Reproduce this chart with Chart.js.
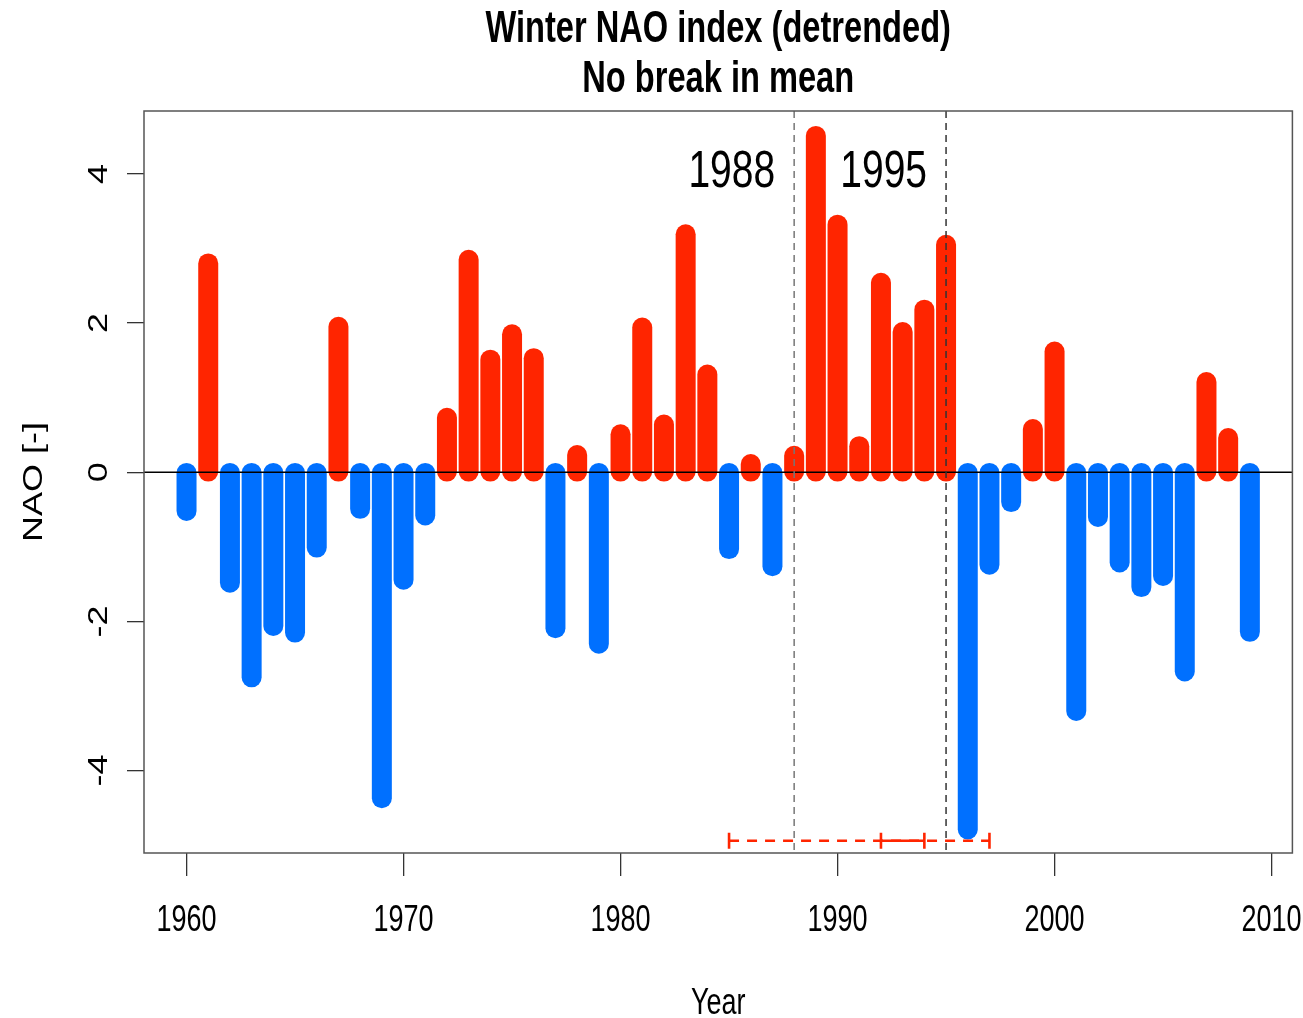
<!DOCTYPE html>
<html>
<head>
<meta charset="utf-8">
<title>Winter NAO index (detrended)</title>
<script src="https://cdn.jsdelivr.net/npm/chart.js@4.4.1/dist/chart.umd.min.js"></script>
<style>
  html, body { margin: 0; padding: 0; background: #fff; }
  #wrap { width: 1303px; height: 1018px; }
</style>
</head>
<body>
<div id="wrap"><canvas id="chart"></canvas></div>
<script>
// Winter NAO index, detrended, one value per winter
const years = [
  1960, 1961, 1962, 1963, 1964, 1965, 1966, 1967, 1968, 1969,
  1970, 1971, 1972, 1973, 1974, 1975, 1976, 1977, 1978, 1979,
  1980, 1981, 1982, 1983, 1984, 1985, 1986, 1987, 1988, 1989,
  1990, 1991, 1992, 1993, 1994, 1995, 1996, 1997, 1998, 1999,
  2000, 2001, 2002, 2003, 2004, 2005, 2006, 2007, 2008, 2009
];
const naoValues = [
  -0.52,  2.80, -1.48, -2.75, -2.06, -2.15, -1.01,  1.95, -0.49, -4.37,
  -1.44, -0.58,  0.73,  2.85,  1.51,  1.85,  1.53, -2.09,  0.23, -2.30,
   0.51,  1.94,  0.64,  3.19,  1.31, -1.03,  0.11, -1.26,  0.22,  4.51,
   3.32,  0.35,  2.54,  1.88,  2.18,  3.05, -4.79, -1.24, -0.40,  0.58,
   1.62, -3.20, -0.60, -1.21, -1.54, -1.39, -2.67,  1.21,  0.46, -2.14
];

const xTicks = [1960, 1970, 1980, 1990, 2000, 2010];
const yTicks = [-4, -2, 0, 2, 4];

// estimated break years and their confidence intervals
const breakYears = [1988, 1995];
const ciOuter = [1985, 1997];
const ciInner = [1992, 1994];
const ciLevel = -4.94;

const RED = '#ff2500';
const BLUE = '#0070ff';
const FONT = '"Liberation Sans", Arial, Helvetica, sans-serif';
const SQUEEZE = 0.75;

function squeezedText(ctx, text, x, y, size, opts = {}) {
  ctx.save();
  ctx.translate(x, y);
  ctx.scale(SQUEEZE, 1);
  if (opts.rotate) ctx.rotate(-Math.PI / 2);
  ctx.font = (opts.bold ? 'bold ' : '') + size + 'px ' + FONT;
  ctx.fillStyle = '#000';
  ctx.textAlign = opts.align || 'center';
  ctx.textBaseline = 'alphabetic';
  ctx.fillText(text, 0, 0);
  ctx.restore();
}

// draws the bars as thick round-capped lines, then the zero line and break lines
const rStylePlot = {
  id: 'rStylePlot',
  beforeDatasetDraw(chart, args) {
    if (args.index !== 0) return;
    const { ctx, chartArea, scales } = chart;
    ctx.save();
    ctx.lineCap = 'round';
    ctx.lineWidth = 20;
    args.meta.data.forEach((bar, i) => {
      ctx.strokeStyle = naoValues[i] >= 0 ? RED : BLUE;
      ctx.beginPath();
      ctx.moveTo(bar.x, bar.base);
      ctx.lineTo(bar.x, bar.y);
      ctx.stroke();
    });

    ctx.lineCap = 'butt';
    ctx.lineWidth = 1.5;
    ctx.strokeStyle = '#000';
    const y0 = scales.y.getPixelForValue(0);
    ctx.beginPath();
    ctx.moveTo(chartArea.left, y0);
    ctx.lineTo(chartArea.right, y0);
    ctx.stroke();

    ctx.setLineDash([7, 5]);
    breakYears.forEach((yr, i) => {
      const x = scales.x.getPixelForValue(yr);
      ctx.strokeStyle = i === 0 ? '#777' : '#333';
      ctx.beginPath();
      ctx.moveTo(x, chartArea.top);
      ctx.lineTo(x, chartArea.bottom);
      ctx.stroke();
    });
    ctx.restore();
    return false;
  },
  afterDraw(chart) {
    const { ctx, chartArea, scales } = chart;
    ctx.save();
    ctx.strokeStyle = '#555';
    ctx.lineWidth = 1.5;
    ctx.strokeRect(chartArea.left, chartArea.top,
      chartArea.right - chartArea.left, chartArea.bottom - chartArea.top);
    ctx.restore();

    const cx = (chartArea.left + chartArea.right) / 2;
    squeezedText(ctx, 'Winter NAO index (detrended)', cx, 42, 43.5, { bold: true });
    squeezedText(ctx, 'No break in mean', cx, 92, 43.5, { bold: true });

    xTicks.forEach(v => {
      squeezedText(ctx, String(v), scales.x.getPixelForValue(v), 931, 36);
    });
    squeezedText(ctx, 'Year', cx, 1014, 36);

    yTicks.forEach(v => {
      squeezedText(ctx, String(v), 107, scales.y.getPixelForValue(v), 36, { rotate: true });
    });
    squeezedText(ctx, 'NAO [-]', 42, (chartArea.top + chartArea.bottom) / 2, 36, { rotate: true });

    breakYears.forEach(yr => {
      squeezedText(ctx, String(yr), scales.x.getPixelForValue(yr) - 19, 187, 52, { align: 'right' });
    });
  }
};

const ciStyle = {
  type: 'line',
  borderColor: RED,
  borderWidth: 2.6,
  pointStyle: 'line',
  pointRotation: 90,
  pointRadius: 8,
  pointBorderColor: RED,
  pointBorderWidth: 2.6,
  fill: false,
  order: 1
};

new Chart(document.getElementById('chart'), {
  type: 'bar',
  data: {
    datasets: [
      {
        label: 'NAO',
        data: years.map((yr, i) => ({ x: yr, y: naoValues[i] })),
        backgroundColor: naoValues.map(v => (v >= 0 ? RED : BLUE)),
        barThickness: 20,
        order: 2
      },
      Object.assign({}, ciStyle, {
        label: 'CI outer',
        data: ciOuter.map(yr => ({ x: yr, y: ciLevel })),
        borderDash: [10, 8]
      }),
      Object.assign({}, ciStyle, {
        label: 'CI inner',
        data: ciInner.map(yr => ({ x: yr, y: ciLevel }))
      })
    ]
  },
  options: {
    responsive: true,
    maintainAspectRatio: false,
    animation: false,
    events: [],
    layout: { padding: { left: 0, top: 111, right: 10, bottom: 0 } },
    plugins: {
      legend: { display: false },
      tooltip: { enabled: false },
      title: { display: false }
    },
    scales: {
      x: {
        type: 'linear',
        min: 1958.04,
        max: 2010.96,
        offset: false,
        afterBuildTicks: s => { s.ticks = xTicks.map(v => ({ value: v })); },
        afterFit: s => { s.height = 165; },
        ticks: { display: false },
        grid: { offset: false, drawOnChartArea: false, drawTicks: true, tickLength: 23, color: '#333', lineWidth: 1.3 },
        border: { display: false }
      },
      y: {
        type: 'linear',
        min: -5.105,
        max: 4.844,
        afterBuildTicks: s => { s.ticks = yTicks.map(v => ({ value: v })); },
        afterFit: s => { s.width = 144; },
        ticks: { display: false },
        grid: { drawOnChartArea: false, drawTicks: true, tickLength: 17, color: '#333', lineWidth: 1.3 },
        border: { display: false }
      }
    }
  },
  plugins: [rStylePlot]
});
</script>
</body>
</html>
